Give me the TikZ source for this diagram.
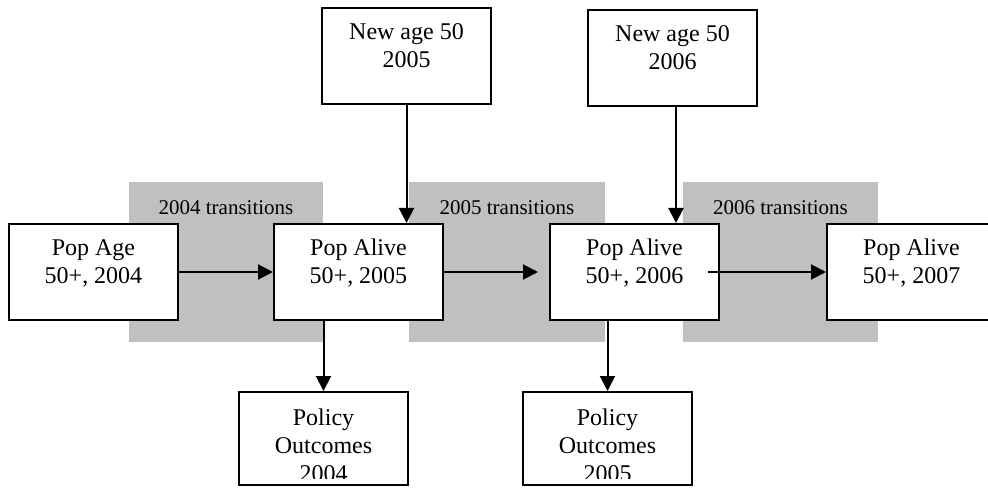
\documentclass[tikz,border=0pt]{standalone}
\usepackage{fontspec}
\setmainfont{Liberation Serif}
\usetikzlibrary{arrows.meta}
\definecolor{bandgray}{RGB}{192,192,192}
\newcommand\mybt[1]{\parbox[t]{169pt}{\centering\rule{0pt}{32pt}#1}}
\begin{document}
\begin{tikzpicture}[x=1pt,y=-1pt,
  box/.style={draw, line width=2pt, fill=white, minimum width=169pt, minimum height=96pt, inner sep=0pt},
  boxtext/.style={anchor=north, inner sep=0pt, font=\fontsize{24}{28}\selectfont},
  band/.style={fill=bandgray, draw=none, inner sep=0pt, minimum height=160pt},
  bandlabel/.style={anchor=base, inner sep=0pt, font=\fontsize{21}{25}\selectfont},
  arr/.style={line width=2pt, -{Triangle[length=15pt,width=15pt]}}]
\useasboundingbox (0,0) rectangle (988,489);
\clip (0,0) rectangle (988,489);

% transition bands
\node[band, minimum width=194pt] (G1) at (226,262) {};
\node[band, minimum width=196pt] (G2) at (507,262) {};
\node[band, minimum width=195pt] (G3) at (780.5,262) {};
\node[bandlabel] (L1) at ([yshift=-33pt]G1.north) {2004 transitions};
\node[bandlabel] (L2) at ([yshift=-33pt]G2.north) {2005 transitions};
\node[bandlabel] (L3) at ([yshift=-33pt]G3.north) {2006 transitions};

% main row
\node[box] (A) at (93.5,272) {};
\node[box] (B) at (358.5,272) {};
\node[box] (C) at (634.5,272) {};
\node[box] (D) at (911.5,272) {};
\node[boxtext] (At) at (A.north) {\mybt{Pop Age\\50+, 2004}};
\node[boxtext] (Bt) at (B.north) {\mybt{Pop Alive\\50+, 2005}};
\node[boxtext] (Ct) at (C.north) {\mybt{Pop Alive\\50+, 2006}};
\node[boxtext] (Dt) at (D.north) {\mybt{Pop Alive\\50+, 2007}};

% top row
\node[box] (N1) at (406.5,56.5) {};
\node[box] (N2) at (672.5,58) {};
\node[boxtext] (N1t) at (N1.north) {\mybt{New age 50\\2005}};
\node[boxtext] (N2t) at (N2.north) {\mybt{New age 50\\2006}};

% bottom row
\node[box, minimum height=93pt] (E) at (323.5,438.5) {};
\node[box, minimum height=93pt] (F) at (607.5,438.5) {};
\begin{scope}
  \clip (E.north west) rectangle ([yshift=8pt]E.south east);
  \node[boxtext] (Et) at ([yshift=-2pt]E.north) {\mybt{Policy\\Outcomes\\2004}};
\end{scope}
\begin{scope}
  \clip (F.north west) rectangle ([yshift=8pt]F.south east);
  \node[boxtext] (Ft) at ([yshift=-2pt]F.north) {\mybt{Policy\\Outcomes\\2005}};
\end{scope}

% connectors
\draw[arr] (A.east) -- (B.west);
\draw[arr] (B.east) -- ([xshift=-11pt]C.west);
\draw[arr] ([xshift=-12pt]C.east) -- (D.west);
\draw[arr] (N1.south) -- (N1.south |- B.north);
\draw[arr] ([xshift=3.5pt]N2.south) -- ([xshift=3.5pt]N2.south |- C.north);
\draw[arr] (E.north |- B.south) -- (E.north);
\draw[arr] (F.north |- C.south) -- (F.north);
\end{tikzpicture}
\end{document}
